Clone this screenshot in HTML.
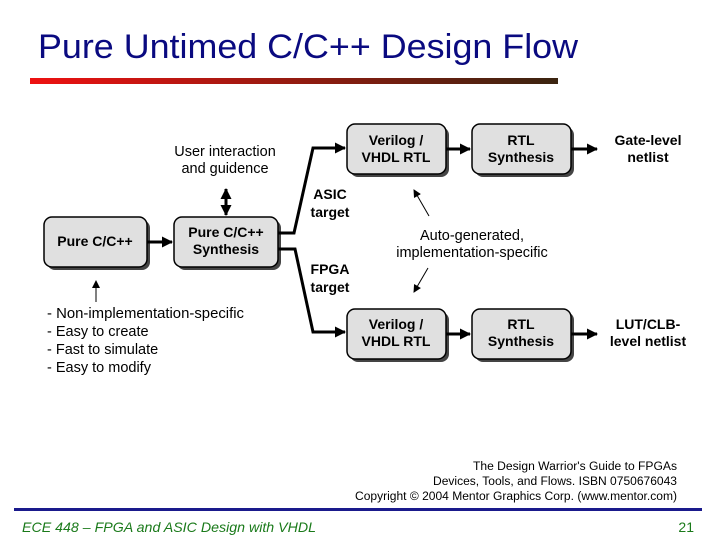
<!DOCTYPE html>
<html><head><style>
body{margin:0;background:#fff;}
svg{display:block;}
</style></head><body>
<svg width="720" height="540" xmlns="http://www.w3.org/2000/svg" font-family="Liberation Sans, Arial, sans-serif">
<defs>
<linearGradient id="g" x1="0" x2="1"><stop offset="0" stop-color="#ee1111"/><stop offset="1" stop-color="#3a2410"/></linearGradient>
<marker id="a" markerWidth="11" markerHeight="11" refX="10" refY="5.5" orient="auto" markerUnits="userSpaceOnUse"><path d="M0,0 L11,5.5 L0,11 z" fill="#000"/></marker>
<marker id="s" markerWidth="8" markerHeight="8" refX="7" refY="4" orient="auto" markerUnits="userSpaceOnUse"><path d="M0,0 L8,4 L0,8 z" fill="#000"/></marker>
</defs>
<text x="38" y="58" font-size="34" fill="#0a0a80" textLength="540" lengthAdjust="spacingAndGlyphs">Pure Untimed C/C++ Design Flow</text>
<rect x="30" y="78" width="528" height="6" fill="url(#g)"/>

<g stroke="#000" stroke-width="1.5" fill="#e0e0e0">
<rect x="47" y="220" width="103" height="50" rx="8" fill="#444" stroke="none"/>
<rect x="44" y="217" width="103" height="50" rx="8"/>
<rect x="177" y="220" width="104" height="50" rx="8" fill="#444" stroke="none"/>
<rect x="174" y="217" width="104" height="50" rx="8"/>
<rect x="350" y="127" width="99" height="50" rx="8" fill="#444" stroke="none"/>
<rect x="347" y="124" width="99" height="50" rx="8"/>
<rect x="475" y="127" width="99" height="50" rx="8" fill="#444" stroke="none"/>
<rect x="472" y="124" width="99" height="50" rx="8"/>
<rect x="350" y="312" width="99" height="50" rx="8" fill="#444" stroke="none"/>
<rect x="347" y="309" width="99" height="50" rx="8"/>
<rect x="475" y="312" width="99" height="50" rx="8" fill="#444" stroke="none"/>
<rect x="472" y="309" width="99" height="50" rx="8"/>
</g>

<g font-weight="bold" font-size="14" text-anchor="middle" fill="#000">
<text x="95" y="246">Pure C/C++</text>
<text x="226" y="237">Pure C/C++</text><text x="226" y="254">Synthesis</text>
<text x="396" y="145">Verilog /</text><text x="396" y="162">VHDL RTL</text>
<text x="521" y="145">RTL</text><text x="521" y="162">Synthesis</text>
<text x="396" y="329">Verilog /</text><text x="396" y="346">VHDL RTL</text>
<text x="521" y="329">RTL</text><text x="521" y="346">Synthesis</text>
<text x="648" y="145">Gate-level</text><text x="648" y="162">netlist</text>
<text x="648" y="329">LUT/CLB-</text><text x="648" y="346">level netlist</text>
<text x="330" y="199">ASIC</text><text x="330" y="217">target</text>
<text x="330" y="274">FPGA</text><text x="330" y="292">target</text>
</g>

<g stroke="#000" stroke-width="3" fill="none">
<line x1="147" y1="242" x2="172" y2="242" marker-end="url(#a)"/>
<line x1="446" y1="149" x2="470" y2="149" marker-end="url(#a)"/>
<line x1="571" y1="149" x2="597" y2="149" marker-end="url(#a)"/>
<line x1="446" y1="334" x2="470" y2="334" marker-end="url(#a)"/>
<line x1="571" y1="334" x2="597" y2="334" marker-end="url(#a)"/>
<polyline points="278,233 294,233 313,148 345,148" marker-end="url(#a)"/>
<polyline points="278,249 295,249 313,332 345,332" marker-end="url(#a)"/>
<line x1="226" y1="196" x2="226" y2="215" marker-end="url(#a)"/>
<line x1="226" y1="212" x2="226" y2="189" marker-end="url(#a)"/>
</g>
<g stroke="#000" stroke-width="1" fill="none">
<line x1="96" y1="302" x2="96" y2="281" marker-end="url(#s)"/>
<line x1="429" y1="216" x2="414" y2="190" marker-end="url(#s)"/>
<line x1="428" y1="268" x2="414" y2="292" marker-end="url(#s)"/>
</g>

<g font-size="14.5" fill="#000">
<text x="225" y="156" text-anchor="middle">User interaction</text>
<text x="225" y="173" text-anchor="middle">and guidence</text>
<text x="472" y="240" text-anchor="middle">Auto-generated,</text>
<text x="472" y="257" text-anchor="middle">implementation-specific</text>
<text x="47" y="318" textLength="197" lengthAdjust="spacingAndGlyphs">- Non-implementation-specific</text>
<text x="47" y="336">- Easy to create</text>
<text x="47" y="354">- Fast to simulate</text>
<text x="47" y="372">- Easy to modify</text>
</g>

<g font-size="11.5" fill="#000" text-anchor="end">
<text x="677" y="470" textLength="204" lengthAdjust="spacingAndGlyphs">The Design Warrior's Guide to FPGAs</text>
<text x="677" y="485" textLength="244" lengthAdjust="spacingAndGlyphs">Devices, Tools, and Flows. ISBN 0750676043</text>
<text x="677" y="500" textLength="322" lengthAdjust="spacingAndGlyphs">Copyright © 2004 Mentor Graphics Corp. (www.mentor.com)</text>
</g>
<rect x="14" y="508" width="688" height="3" fill="#1a1a8c"/>
<text x="22" y="532" font-size="14" font-style="italic" fill="#1a7a1a" textLength="294" lengthAdjust="spacingAndGlyphs">ECE 448 – FPGA and ASIC Design with VHDL</text>
<text x="694" y="532" font-size="14" fill="#1a7a1a" text-anchor="end">21</text>
</svg>
</body></html>
